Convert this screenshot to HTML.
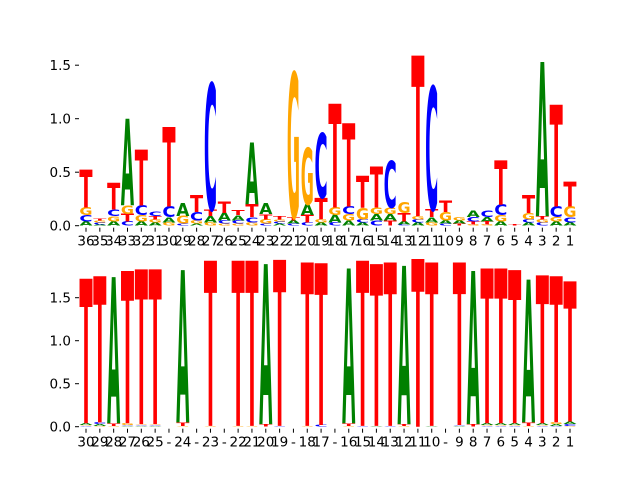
<!DOCTYPE html>
<html><head><meta charset="utf-8"><style>
html,body{margin:0;padding:0;background:#fff;}
svg{display:block;font-family:"DejaVu Sans","Liberation Sans",sans-serif;}
</style></head><body>
<svg id="chart" width="640" height="480">
<g id="top"></g>
<g id="bot"></g>
</svg>
<script>
// ---- top panel data (bits per letter), positions 36..1 ----
const topLabels = ["36","35","34","33","32","31","30","29","28","27","26","25","24","23","22","21","20","19","18","17","16","15","14","13","12","11","10","9","8","7","6","5","4","3","2","1"];
const topA = [0.04,0.01,0.04,0.81,0.04,0.03,0.05,0.12,0.02,0.06,0.07,0.05,0.58,0.10,0.02,0.03,0.10,0.03,0.07,0.05,0.03,0.06,0.06,0.03,0.03,0.05,0.03,0.03,0.06,0.04,0.04,0.00,0.03,1.44,0.04,0.03];
const topC = [0.06,0.02,0.06,0.04,0.09,0.04,0.10,0.02,0.08,1.18,0.03,0.03,0.05,0.02,0.02,0.02,0.03,0.60,0.03,0.07,0.03,0.05,0.44,0.01,0.03,1.15,0.02,0.00,0.04,0.06,0.10,0.00,0.03,0.03,0.10,0.05];
const topG = [0.07,0.02,0.05,0.08,0.06,0.03,0.03,0.07,0.03,0.03,0.02,0.02,0.03,0.04,0.02,1.35,0.53,0.03,0.07,0.06,0.11,0.06,0.06,0.10,0.03,0.03,0.08,0.03,0.01,0.01,0.06,0.00,0.06,0.03,0.04,0.10];
const topT = [0.35,0.02,0.25,0.07,0.52,0.03,0.74,0.00,0.16,0.06,0.11,0.05,0.12,0.05,0.03,0.03,0.07,0.20,0.97,0.78,0.30,0.38,0.05,0.08,1.50,0.07,0.11,0.02,0.03,0.03,0.41,0.01,0.17,0.03,0.95,0.23];
const topTicks = [0,0.5,1.0,1.5];
const topTickLabels = ["0.0","0.5","1.0","1.5"];
// ---- bottom panel data ----
const botLabels = ["30","29","28","27","26","25","-","24","-","23","-","22","21","20","19","-","18","17","-","16","15","14","13","12","11","10","-","9","8","7","6","5","4","3","2","1"];
const botA = [0.02,0.02,1.70,0.01,0.01,0.01,0,1.77,0,0,0,0,0,1.86,0,0,0,0,0,1.80,0,0.01,0,1.84,0,0.01,0,0.01,1.78,0.02,0.02,0.02,1.66,0.02,0.02,0.03];
const botC = [0.01,0.02,0.00,0.01,0.01,0.01,0,0.00,0,0,0,0,0,0,0.01,0,0,0.02,0,0,0.01,0,0.01,0,0,0,0,0.01,0,0.01,0.01,0.01,0.00,0.01,0.01,0.02];
const botG = [0.01,0.01,0.01,0.02,0.01,0.01,0,0.01,0,0.01,0,0.01,0.01,0,0,0,0.01,0,0,0.01,0,0,0,0.01,0,0,0,0,0,0.01,0.01,0.01,0.01,0.01,0.02,0.01];
const botT = [1.68,1.70,0.03,1.77,1.80,1.80,0,0.04,0,1.92,0,1.92,1.92,0.03,1.93,0,1.90,1.88,0,0.03,1.92,1.88,1.90,0.02,1.95,1.90,0,1.89,0.03,1.80,1.80,1.78,0.04,1.72,1.70,1.63];
const botTicks = [0,0.5,1.0,1.5];
const botTickLabels = ["0.0","0.5","1.0","1.5"];

const NS="http://www.w3.org/2000/svg";
const colors={A:"#008000",C:"#0000ff",G:"#ffa500",T:"#ff0000"};
const gw={A:77.4,C:73.4,G:82.1,T:68.2};
function mk(tag,attrs,parent){const e=document.createElementNS(NS,tag);for(const k in attrs)e.setAttribute(k,attrs[k]);parent.appendChild(e);return e;}

function drawPanel(g,labels,A,C,G,T,ticks,tickLabels,y0,unit,prefix){
  const x0=86, step=(570-86)/35;
  const xs=i=>x0+i*step;
  const ys=v=>y0-v*unit;
  ticks.forEach((t,i)=>{
    const l=mk("line",{x1:75,x2:79,y1:ys(t),y2:ys(t),stroke:"#000","stroke-width":1},g);
    
    
    const tx=mk("text",{x:71,y:ys(t)+5,"text-anchor":"end","font-size":13.5,fill:"#000"},g);
    tx.textContent=tickLabels[i];
    
    
  });
  labels.forEach((lab,i)=>{
    const x=xs(i);
    const l=mk("line",{x1:x,x2:x,y1:y0+2,y2:y0+6,stroke:"#000","stroke-width":1},g);
    
    
    const tx=mk("text",{x:x,y:y0+20,"text-anchor":"middle","font-size":13.5,fill:"#000"},g);
    tx.textContent=lab;
    
    
    const vals=[["A",A[i]],["C",C[i]],["G",G[i]],["T",T[i]]].filter(d=>d[1]>0).sort((a,b)=>a[1]-b[1]);
    let base=0;
    const w=step*0.95;
    vals.forEach(([L,v])=>{
      const h=v*unit;
      const sx=w/gw[L], sy=h/72.9;
      const t=mk("text",{x:0,y:0,"font-size":100,"font-weight":"bold",fill:colors[L],
        transform:`translate(${x-w/2},${ys(base)}) scale(${sx},${sy})`},g);
      t.textContent=L;
      
      
      base+=v;
    });
  });
}
drawPanel(document.getElementById("top"),topLabels,topA,topC,topG,topT,topTicks,topTickLabels,225.7,107,"top");
drawPanel(document.getElementById("bot"),botLabels,botA,botC,botG,botT,botTicks,botTickLabels,426.7,86,"bottom");
</script>
</body></html>
